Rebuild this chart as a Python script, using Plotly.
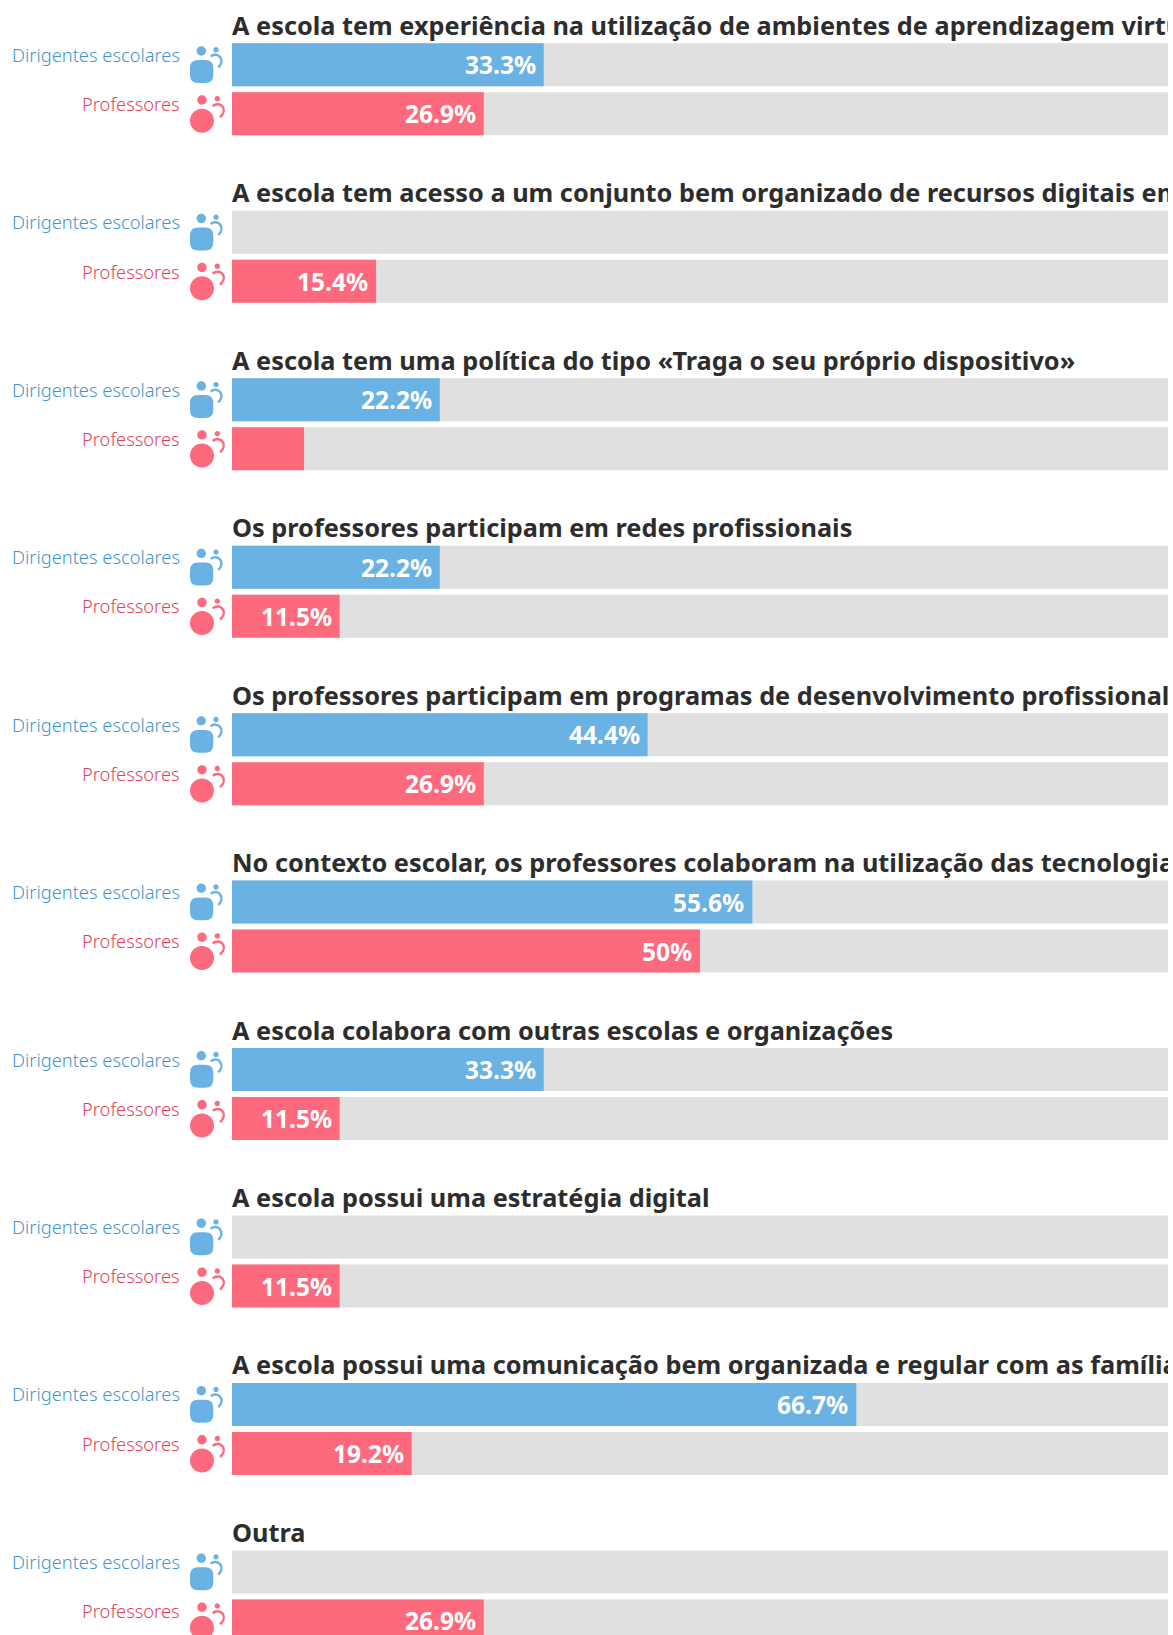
import plotly.graph_objects as go

titles = [
    "A escola tem experiência na utilização de ambientes de aprendizagem virtuais",
    "A escola tem acesso a um conjunto bem organizado de recursos digitais em linha",
    "A escola tem uma política do tipo «Traga o seu próprio dispositivo»",
    "Os professores participam em redes profissionais",
    "Os professores participam em programas de desenvolvimento profissional",
    "No contexto escolar, os professores colaboram na utilização das tecnologias digitais",
    "A escola colabora com outras escolas e organizações",
    "A escola possui uma estratégia digital",
    "A escola possui uma comunicação bem organizada e regular com as famílias",
    "Outra",
]
blue_values = [33.3, None, 22.2, 22.2, 44.4, 55.6, 33.3, None, 66.7, None]
red_values = [26.9, 15.4, 7.7, 11.5, 26.9, 50, 11.5, 11.5, 19.2, 26.9]
blue_labels = ["33.3%", "", "22.2%", "22.2%", "44.4%", "55.6%", "33.3%", "", "66.7%", ""]
red_labels = ["26.9%", "15.4%", "", "11.5%", "26.9%", "50%", "11.5%", "11.5%", "19.2%", "26.9%"]
series_names = ["Dirigentes escolares", "Professores"]

W, H = 1173, 1635
LEFT, RIGHT = 232, 1168
TOP, STEP = 43.3, 167.46
BAR = 43
BLUE_C, RED_C = 21.5, 70.5  # px offset of bar centres from group top
GRAY, BLUE, RED = "#e0e0e0", "#6bb2e4", "#fd697d"
BLUE_T, RED_T, DARK = "#3f95cc", "#e23f5b", "#2d2d2d"
FONT = "Noto Sans"

n = len(titles)
groups = list(range(n))
u = 1 / STEP
yb = [i + BLUE_C * u for i in groups]
yr = [i + RED_C * u for i in groups]
yt = [i - 14.8 * u for i in groups]

fig = go.Figure()
fig.add_bar(y=yb, x=[100] * n, orientation="h", width=BAR * u, marker=dict(color=GRAY, line_width=0), hoverinfo="skip")
fig.add_bar(y=yr, x=[100] * n, orientation="h", width=BAR * u, marker=dict(color=GRAY, line_width=0), hoverinfo="skip")
fig.add_bar(y=yb, x=blue_values, orientation="h", width=BAR * u, marker=dict(color=BLUE, line_width=0), name=series_names[0])
fig.add_bar(y=yr, x=red_values, orientation="h", width=BAR * u, marker=dict(color=RED, line_width=0), name=series_names[1])
fig.add_scatter(x=[0] * n, y=yt, mode="text", text=titles, textposition="middle right", cliponaxis=True,
                textfont=dict(family=FONT, size=25.3, color=DARK, weight="bold"), hoverinfo="skip")

K = 0.5523

def circle(cx, cy, r):
    # cy is measured downward from the group top; pixel-sized paths measure upward
    k = K * r
    y = -cy
    return (f"M {cx-r} {y} C {cx-r} {y+k} {cx-k} {y+r} {cx} {y+r} C {cx+k} {y+r} {cx+r} {y+k} {cx+r} {y} "
            f"C {cx+r} {y-k} {cx+k} {y-r} {cx} {y-r} C {cx-k} {y-r} {cx-r} {y-k} {cx-r} {y} Z")

def rrect(x0, y0, x1, y1, r):
    a, b = -y0, -y1
    return (f"M {x0+r} {a} L {x1-r} {a} Q {x1} {a} {x1} {a-r} L {x1} {b+r} Q {x1} {b} {x1-r} {b} "
            f"L {x0+r} {b} Q {x0} {b} {x0} {b+r} L {x0} {a-r} Q {x0} {a} {x0+r} {a} Z")

def swoosh(x0, y0, x1, y1, x2, y2, x3, y3):
    return f"M {x0} {-y0} C {x1} {-y1} {x2} {-y2} {x3} {-y3}"

shapes, annotations = [], []
for i in groups:
    base = dict(type="path", xref="paper", xsizemode="pixel", xanchor=0, yref="y", ysizemode="pixel", yanchor=i)
    blue_icon = " ".join([circle(201.3, 7.7, 4.7), circle(216, 6.4, 2.7), rrect(190, 16.8, 213.3, 39.7, 8)])
    red_icon = " ".join([circle(202, 56.7, 4.7), circle(217.3, 55.4, 2.7), circle(202, 77.4, 12)])
    shapes.append(dict(base, path=blue_icon, fillcolor=BLUE, line_width=0))
    shapes.append(dict(base, path=swoosh(210.7, 13.2, 218, 7.5, 226, 17, 218.3, 24.2),
                       fillcolor="rgba(0,0,0,0)", line=dict(color=BLUE, width=2.5)))
    shapes.append(dict(base, path=red_icon, fillcolor=RED, line_width=0))
    shapes.append(dict(base, path=swoosh(212.7, 62.7, 220, 57, 229, 66, 220, 74),
                       fillcolor="rgba(0,0,0,0)", line=dict(color=RED, width=2.5)))
    for name, off, col in ((series_names[0], 11, BLUE_T), (series_names[1], 60.3, RED_T)):
        annotations.append(dict(xref="paper", x=182 / W, yref="y", y=i + off * u, text=name, showarrow=False,
                                xanchor="right", yanchor="middle",
                                font=dict(family=FONT, size=18.3, color=col, weight=300)))
    for val, lab, yy in ((blue_values[i], blue_labels[i], yb[i]), (red_values[i], red_labels[i], yr[i])):
        if lab:
            annotations.append(dict(xref="x", x=val, yref="y", y=yy, text=lab, showarrow=False, xanchor="right", xshift=-6,
                                    yanchor="middle", font=dict(family=FONT, size=24.5, color="white", weight="bold")))

fig.update_layout(
    width=W, height=H, margin=dict(l=0, r=0, t=0, b=0), barmode="overlay", showlegend=False,
    plot_bgcolor="white", paper_bgcolor="white", shapes=shapes, annotations=annotations,
    xaxis=dict(domain=[LEFT / W, RIGHT / W], range=[0, 100], visible=False, fixedrange=True),
    yaxis=dict(range=[(H - TOP) * u, -TOP * u], visible=False, fixedrange=True),
)
fig.write_html("out.html", config=dict(displayModeBar=False),
               post_script="document.body.style.margin='0';document.documentElement.style.overflow='hidden';")
